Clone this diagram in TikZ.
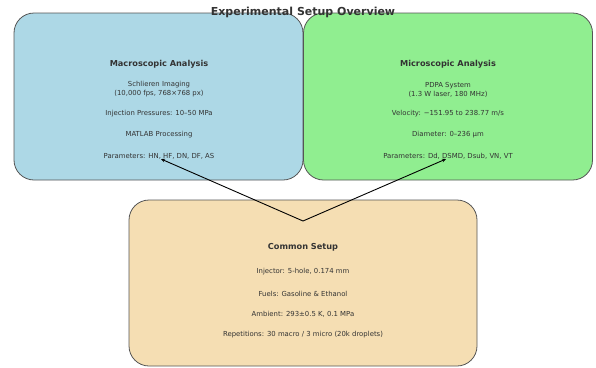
\documentclass[tikz,border=0pt]{standalone}
\usepackage{fontspec}
\setmainfont{DejaVu Sans}
\usetikzlibrary{arrows.meta}
\definecolor{lb}{HTML}{ADD8E6}
\definecolor{lg}{HTML}{90EE90}
\definecolor{wh}{HTML}{F5DEB3}
\definecolor{edge}{HTML}{555555}
\definecolor{txt}{HTML}{333333}
\begin{document}
\begin{tikzpicture}[x=1pt,y=-1pt,
  panel/.style={draw=edge, line width=0.8pt, rounded corners=20pt, inner sep=0pt, outer sep=0pt},
  head/.style={font=\fontsize{8.2}{9}\selectfont\bfseries, text=txt, inner sep=0pt},
  body/.style={font=\fontsize{6.9}{9}\selectfont, text=txt, inner sep=0pt, align=center},
  conn/.style={line width=0.9pt, -{Stealth[length=4pt,width=3.5pt]}}]
\useasboundingbox (0,0) rectangle (596,367);
% panels
\node[panel, fill=lb, minimum width=289pt, minimum height=167pt] (macro) at (158.5,96.5) {};
\node[panel, fill=lg, minimum width=289pt, minimum height=167pt] (micro) at (448,96.5) {};
\node[panel, fill=wh, minimum width=348pt, minimum height=166pt] (common) at (303,283) {};
% macro texts
\node[head] (mh) at (159,64) {Macroscopic Analysis};
\node[body] (m1) at (159,89.5) {Schlieren Imaging\\(10,000 fps, 768×768 px)};
\node[body] (m2) at (159,114) {Injection Pressures: 10–50 MPa};
\node[body] (m3) at (159,135) {MATLAB Processing};
\node[body] (m4) at (159,156) {Parameters: HN, HF, DN, DF, AS};
% micro texts
\node[head] (ph) at (448,64) {Microscopic Analysis};
\node[body] (p1) at (448,89.5) {PDPA System\\(1.3 W laser, 180 MHz)};
\node[body] (p2) at (448,114) {Velocity: −151.95 to 238.77 m/s};
\node[body] (p3) at (448,135) {Diameter: 0–236 μm};
\node[body] (p4) at (448,156) {Parameters: Dd, DSMD, Dsub, VN, VT};
% common texts
\node[head] (ch) at (303,247) {Common Setup};
\node[body] (c1) at (303,272) {Injector: 5-hole, 0.174 mm};
\node[body] (c2) at (303,294) {Fuels: Gasoline \& Ethanol};
\node[body] (c3) at (303,314) {Ambient: 293±0.5 K, 0.1 MPa};
\node[body] (c4) at (303,335) {Repetitions: 30 macro / 3 micro (20k droplets)};
% connectors
\coordinate (src) at (303,221);
\coordinate (tL) at (161,159);
\coordinate (tR) at (446,159);
\draw[conn] (src) -- (tL);
\draw[conn] (src) -- (tR);
% title
\node[font=\fontsize{11}{12}\selectfont\bfseries, text=txt, inner sep=0pt] (title) at (303,12) {Experimental Setup Overview};
\end{tikzpicture}
\end{document}
